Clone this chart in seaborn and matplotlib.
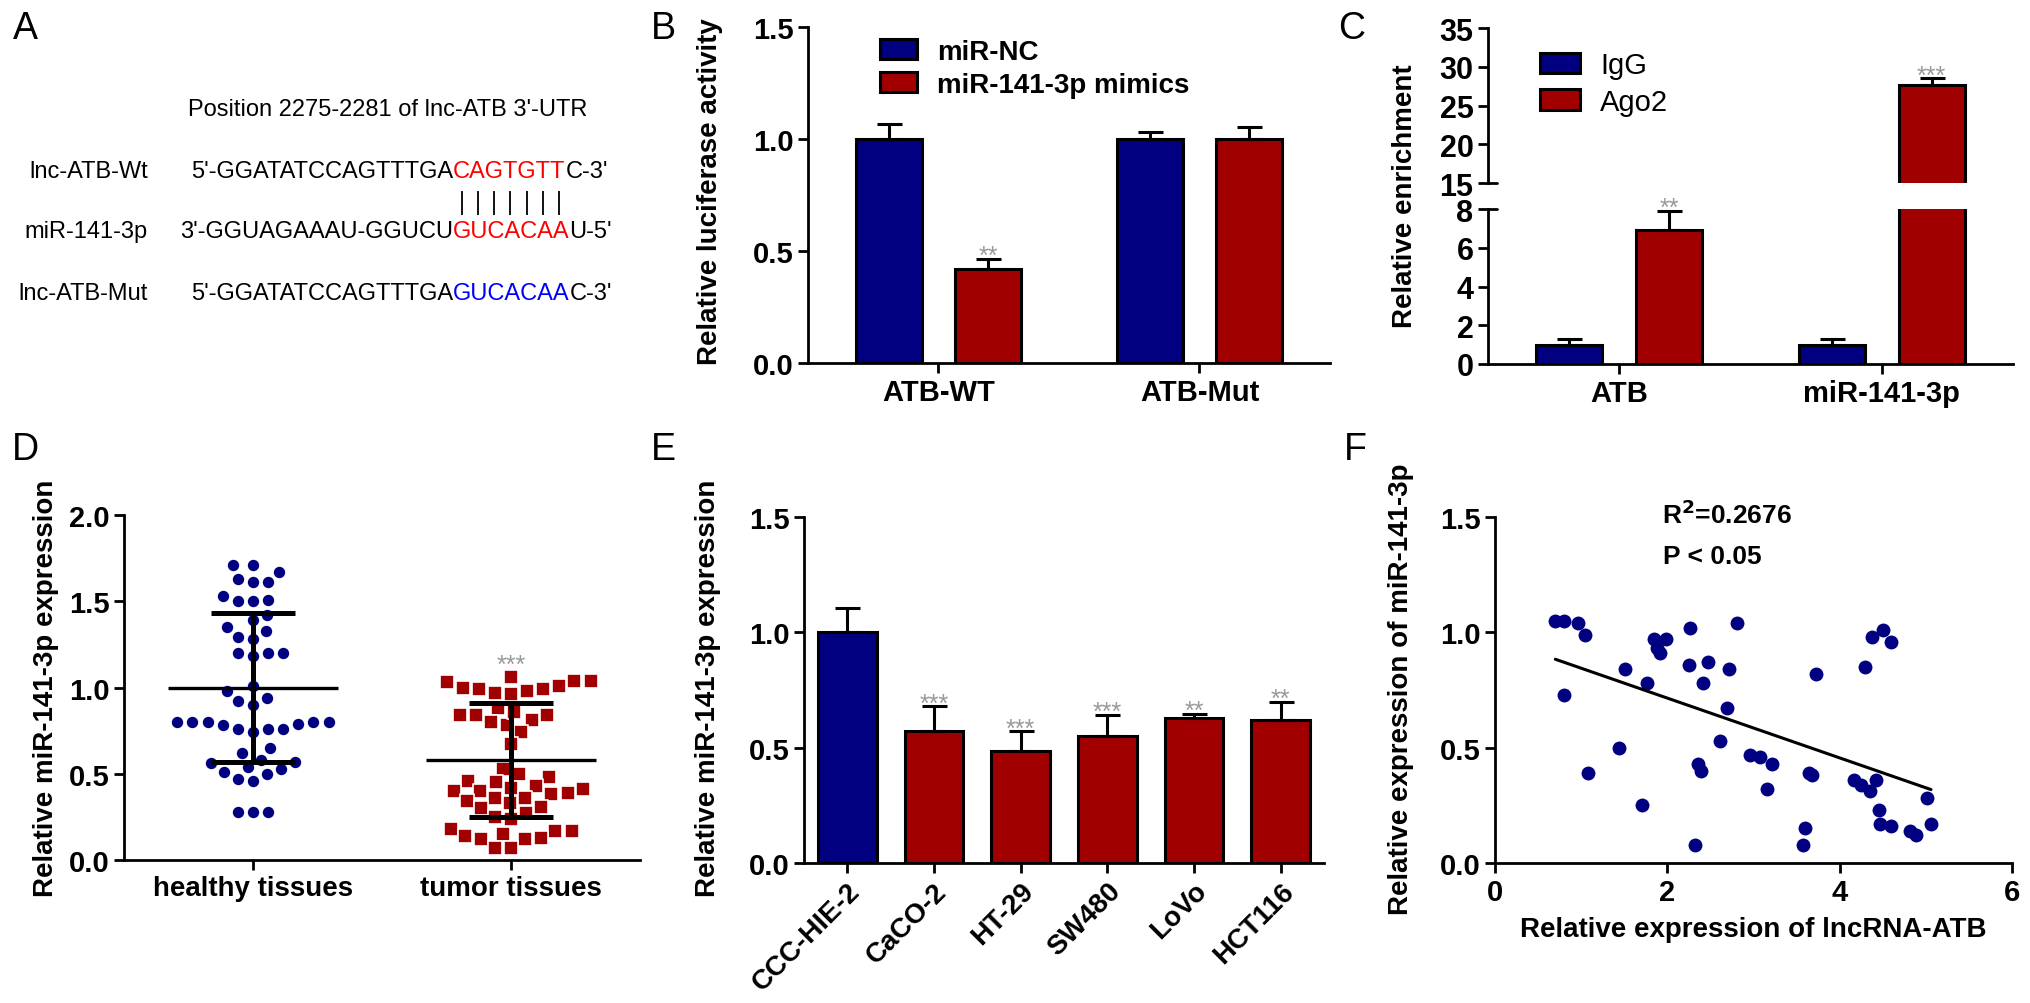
import numpy as np
import pandas as pd
import matplotlib
matplotlib.use('Agg')
import matplotlib.pyplot as plt
from matplotlib.ticker import FormatStrFormatter
import seaborn as sns

sns.set_theme(style='ticks')
plt.rcParams['font.family'] = ['Liberation Sans', 'DejaVu Sans']
plt.rcParams.update({
    'font.weight': 'bold', 'axes.labelweight': 'bold',
    'text.color': 'black', 'axes.labelcolor': 'black', 'axes.edgecolor': 'black',
    'xtick.color': 'black', 'ytick.color': 'black',
    'axes.linewidth': 2.0, 'xtick.major.width': 2.0, 'ytick.major.width': 2.0,
    'xtick.major.size': 7, 'ytick.major.size': 7,
    'xtick.labelsize': 21, 'ytick.labelsize': 21,
})

W, H = 2031, 1004
BLUE = '#000080'
RED = '#a00000'
GREY = '#999999'

# ---- B: luciferase
b_groups = ['ATB-WT', 'ATB-Mut']
b_treat = ['miR-NC', 'miR-141-3p mimics']
b_nc = [1.00, 1.00]
b_nc_err = [0.068, 0.032]
b_mim = [0.42, 1.00]
b_mim_err = [0.045, 0.054]
b_stars = ['**', '']

# ---- C: RIP
c_groups = ['ATB', 'miR-141-3p']
c_ip = ['IgG', 'Ago2']
c_igg = [1.0, 1.0]
c_igg_err = [0.3, 0.3]
c_ago = [6.9, 27.6]
c_ago_err = [1.0, 0.9]
c_stars = ['**', '***']

# ---- D: tissues
d_groups = ['healthy tissues', 'tumor tissues']
healthy = [1.71, 1.71, 1.67, 1.63, 1.61, 1.61, 1.53, 1.50, 1.50, 1.51,
           1.35, 1.33, 1.39, 1.42, 1.29, 1.28, 1.20, 1.20, 1.20, 1.18,
           1.01, 0.98, 0.92, 0.90, 0.94,
           0.76, 0.78, 0.80, 0.80, 0.79, 0.74, 0.76, 0.76, 0.80, 0.80, 0.80,
           0.65, 0.62, 0.58, 0.57, 0.56, 0.54, 0.51, 0.50, 0.53, 0.47, 0.46,
           0.28, 0.28, 0.28]
tumor = [1.04, 1.03, 1.06, 1.04, 0.97, 0.99, 0.96, 1.00, 0.99, 1.01, 0.98,
         0.84, 0.81, 0.78, 0.86, 0.84, 0.84, 0.88, 0.80, 0.74, 0.67,
         0.53, 0.50, 0.46, 0.48,
         0.45, 0.40, 0.43, 0.39, 0.40, 0.41, 0.42, 0.36, 0.38,
         0.36, 0.33, 0.31, 0.34, 0.30, 0.25, 0.27, 0.24,
         0.17, 0.17, 0.18, 0.12, 0.13, 0.15, 0.14, 0.12, 0.07, 0.07]
d_mean = [1.00, 0.58]
d_sd = [0.43, 0.33]

# ---- E: cell lines
e_cells = ['CCC-HIE-2', 'CaCO-2', 'HT-29', 'SW480', 'LoVo', 'HCT116']
e_val = [1.00, 0.571, 0.484, 0.551, 0.627, 0.622]
e_err = [0.106, 0.108, 0.087, 0.092, 0.019, 0.076]
e_stars = ['', '***', '***', '***', '**', '**']

# ---- F: correlation
f_atb = [0.70, 0.80, 0.96, 1.04, 0.80, 1.08, 1.44, 1.51, 1.71, 1.76, 1.85, 1.88,
         1.91, 1.99, 2.26, 2.25, 2.41, 2.36, 2.39, 2.47, 2.32, 2.61, 2.71, 2.69,
         2.81, 2.96, 3.08, 3.21, 3.16, 3.64, 3.68, 3.73, 3.60, 3.58, 4.17, 4.25,
         4.35, 4.42, 4.29, 4.37, 4.50, 4.60, 4.46, 4.47, 4.59, 4.82, 4.89, 5.01, 5.06]
f_mir = [1.05, 1.05, 1.04, 0.99, 0.73, 0.39, 0.50, 0.84, 0.25, 0.78, 0.97, 0.93,
         0.91, 0.97, 1.02, 0.86, 0.78, 0.43, 0.40, 0.87, 0.08, 0.53, 0.84, 0.67,
         1.04, 0.47, 0.46, 0.43, 0.32, 0.39, 0.38, 0.82, 0.15, 0.08, 0.36, 0.34,
         0.31, 0.36, 0.85, 0.98, 1.01, 0.96, 0.23, 0.17, 0.16, 0.14, 0.12, 0.28, 0.17]

fig = plt.figure(figsize=(W / 100, H / 100), dpi=100)


def add_ax(x0, y0, x1, y1):
    # pixel box -> figure fraction
    return fig.add_axes([x0 / W, 1 - y1 / H, (x1 - x0) / W, (y1 - y0) / H])


def ftext(x, y, s, **kw):
    return fig.text(x / W, 1 - y / H, s, **kw)


def add_err(ax, bars, errs, stars=None):
    for i, (bar, e) in enumerate(zip(bars, errs)):
        x = bar.get_x() + bar.get_width() / 2
        h = bar.get_height()
        ax.errorbar(x, h, yerr=[[0], [e]], color='black', lw=2.2, capsize=9,
                    capthick=2.2, zorder=1)
        if stars and stars[i]:
            ax.annotate(stars[i], (x, h + e), xytext=(0, -3), textcoords='offset points',
                        ha='center', va='baseline', color=GREY, fontsize=18,
                        fontweight='normal')


# ---------------- A: sequences
ax_a = fig.add_axes([0, 1 - 420 / H, 680 / W, 420 / H])
ax_a.set_xlim(0, 680)
ax_a.set_ylim(420, 0)
ax_a.axis('off')
seq_kw = dict(fontsize=17, fontweight='normal', va='center')
ax_a.text(388, 110, "Position 2275-2281 of lnc-ATB 3'-UTR", ha='center', **seq_kw)
rows = [("lnc-ATB-Wt", "5'-GGATATCCAGTTTGA", "CAGTGTT", "C-3'", 'red', 172),
        ("miR-141-3p", "3'-GGUAGAAAU-GGUCU", "GUCACAA", "U-5'", 'red', 232),
        ("lnc-ATB-Mut", "5'-GGATATCCAGTTTGA", "GUCACAA", "C-3'", 'blue', 294)]
for name, pre, core, post, col, y in rows:
    ax_a.text(148, y, name, ha='right', **seq_kw)
    ax_a.text(453, y, pre, ha='right', **seq_kw)
    t = ax_a.text(453, y, core, ha='left', color=col, **seq_kw)
    ax_a.annotate(post, xy=(1, 0.5), xycoords=t, ha='left', **seq_kw)
ax_a.vlines(np.linspace(462, 559, 7), 192, 216, color='black', lw=1.3)

# ---------------- B
ax_b = add_ax(808, 28, 1330, 364)
dfb = pd.DataFrame({'group': b_groups * 2,
                    'treat': [b_treat[0]] * 2 + [b_treat[1]] * 2,
                    'val': b_nc + b_mim})
sns.barplot(data=dfb, x='group', y='val', hue='treat', palette=[BLUE, RED], saturation=1,
            width=0.76, gap=0.34, edgecolor='black', linewidth=2.2, errorbar=None, ax=ax_b)
add_err(ax_b, ax_b.containers[0], b_nc_err)
add_err(ax_b, ax_b.containers[1], b_mim_err, b_stars)
ax_b.set_ylim(0, 1.5)
ax_b.set_xlim(-0.5, 1.5)
ax_b.set_yticks([0, 0.5, 1.0, 1.5])
ax_b.yaxis.set_major_formatter(FormatStrFormatter('%.1f'))
ax_b.set_xlabel('')
ax_b.set_ylabel('')
sns.despine(ax=ax_b)
sns.move_legend(ax_b, 'upper left', bbox_to_anchor=(0.09, 1.04), frameon=False, title=None,
                fontsize=20, handlelength=1.35, handleheight=0.7, handletextpad=0.7,
                labelspacing=0.25)
ftext(710, 192, 'Relative luciferase activity', rotation=90, ha='center', va='center',
      fontsize=20)

# ---------------- C (broken axis)
ax_cu = add_ax(1488, 29, 2013, 184)
ax_cl = add_ax(1488, 210, 2013, 365)
dfc = pd.DataFrame({'group': c_groups * 2,
                    'ip': [c_ip[0]] * 2 + [c_ip[1]] * 2,
                    'val': c_igg + c_ago})
for ax in (ax_cu, ax_cl):
    sns.barplot(data=dfc, x='group', y='val', hue='ip', palette=[BLUE, RED], saturation=1,
                width=0.76, gap=0.34, edgecolor='black', linewidth=2.2, errorbar=None,
                legend=(ax is ax_cu), ax=ax)
    add_err(ax, ax.containers[0], c_igg_err)
    add_err(ax, ax.containers[1], c_ago_err, c_stars)
    ax.set_xlim(-0.5, 1.5)
    ax.set_xlabel('')
    ax.set_ylabel('')
    ax.tick_params(axis='y', labelsize=22)
ax_cu.set_ylim(15, 35)
ax_cu.set_yticks([15, 20, 25, 30, 35])
ax_cl.set_ylim(0, 8)
ax_cl.set_yticks([0, 2, 4, 6, 8])
sns.despine(ax=ax_cl)
sns.despine(ax=ax_cu, bottom=True)
ax_cu.tick_params(axis='x', bottom=False, labelbottom=False)
for ax, yb in ((ax_cu, 15), (ax_cl, 8)):
    ax.plot([-0.0, 0.018], [yb, yb], transform=ax.get_yaxis_transform(), color='black',
            lw=2.0, clip_on=False)
sns.move_legend(ax_cu, 'upper left', bbox_to_anchor=(0.05, 1.02), frameon=False, title=None,
                prop={'size': 21, 'weight': 'normal'}, handlelength=1.35, handleheight=0.7,
                handletextpad=0.7, labelspacing=0.3)
ftext(1405, 196, 'Relative enrichment', rotation=90, ha='center', va='center', fontsize=20)

# ---------------- D: scatter columns
ax_d = add_ax(124, 516, 640, 861)
dfd = pd.DataFrame({'tissue': [d_groups[0]] * len(healthy) + [d_groups[1]] * len(tumor),
                    'expr': healthy + tumor})
sns.swarmplot(data=dfd[dfd.tissue == d_groups[0]], x='tissue', y='expr', order=d_groups,
              color=BLUE, marker='o', size=9.4, edgecolor='white', linewidth=1.2, ax=ax_d)
sns.swarmplot(data=dfd[dfd.tissue == d_groups[1]], x='tissue', y='expr', order=d_groups,
              color=RED, marker='s', size=10, edgecolor='white', linewidth=1.2, ax=ax_d)
for i, (m, sd) in enumerate(zip(d_mean, d_sd)):
    ax_d.hlines(m, i - 0.33, i + 0.33, color='black', lw=2.4, zorder=5)
    ax_d.errorbar(i, m, yerr=sd, color='black', lw=3.6, capsize=30, capthick=3.6, zorder=5)
ax_d.annotate('***', (1, max(tumor)), xytext=(0, 4), textcoords='offset points',
              ha='center', va='baseline', color=GREY, fontsize=18, fontweight='normal')
ax_d.set_xlim(-0.5, 1.5)
ax_d.set_ylim(0, 2.0)
ax_d.set_yticks([0, 0.5, 1.0, 1.5, 2.0])
ax_d.yaxis.set_major_formatter(FormatStrFormatter('%.1f'))
ax_d.set_xlabel('')
ax_d.set_ylabel('')
ax_d.tick_params(axis='x', labelsize=20)
sns.despine(ax=ax_d)
ftext(46, 688, 'Relative miR-141-3p expression', rotation=90, ha='center', va='center',
      fontsize=20)

# ---------------- E: cell lines
ax_e = add_ax(804, 518, 1324, 864)
dfe = pd.DataFrame({'cell': e_cells, 'val': e_val})
sns.barplot(data=dfe, x='cell', y='val', hue='cell', palette=[BLUE] + [RED] * 5, saturation=1,
            legend=False, width=0.68, edgecolor='black', linewidth=2.2, errorbar=None, ax=ax_e)
add_err(ax_e, ax_e.patches, e_err, e_stars)
ax_e.set_xlim(-0.5, 5.5)
ax_e.set_ylim(0, 1.5)
ax_e.set_yticks([0, 0.5, 1.0, 1.5])
ax_e.yaxis.set_major_formatter(FormatStrFormatter('%.1f'))
ax_e.set_xlabel('')
ax_e.set_ylabel('')
plt.setp(ax_e.get_xticklabels(), rotation=45, ha='right', rotation_mode='anchor', fontsize=20)
sns.despine(ax=ax_e)
ftext(708, 688, 'Relative miR-141-3p expression', rotation=90, ha='center', va='center',
      fontsize=20)

# ---------------- F: correlation
ax_f = add_ax(1495, 518, 2012, 864)
dff = pd.DataFrame({'atb': f_atb, 'mir': f_mir})
sns.regplot(data=dff, x='atb', y='mir', ci=None, color=BLUE, ax=ax_f,
            scatter_kws=dict(s=100, alpha=1, linewidths=0),
            line_kws=dict(color='black', lw=2.2))
ax_f.set_xlim(0, 6)
ax_f.set_ylim(0, 1.5)
ax_f.set_xticks([0, 2, 4, 6])
ax_f.set_yticks([0, 0.5, 1.0, 1.5])
ax_f.yaxis.set_major_formatter(FormatStrFormatter('%.1f'))
ax_f.set_xlabel('')
ax_f.set_ylabel('')
sns.despine(ax=ax_f)
ax_f.text(0.323, 1.01, r'R$^\mathbf{2}$=0.2676', transform=ax_f.transAxes, fontsize=19,
          va='center', ha='left')
ax_f.text(0.325, 0.887, 'P < 0.05', transform=ax_f.transAxes, fontsize=19,
          va='center', ha='left')
ftext(1401, 689, 'Relative expression of miR-141-3p', rotation=90, ha='center',
      va='center', fontsize=20)
ftext(1753, 930, 'Relative expression of lncRNA-ATB', ha='center', va='center', fontsize=20)

# ---------------- panel letters
for lab, x, y in [('A', 25, 29), ('B', 663, 29), ('C', 1352, 29),
                  ('D', 25, 450), ('E', 663, 450), ('F', 1355, 450)]:
    ftext(x, y, lab, ha='center', va='center', fontsize=27, fontweight='normal')

fig.savefig('out.png', dpi=100)
